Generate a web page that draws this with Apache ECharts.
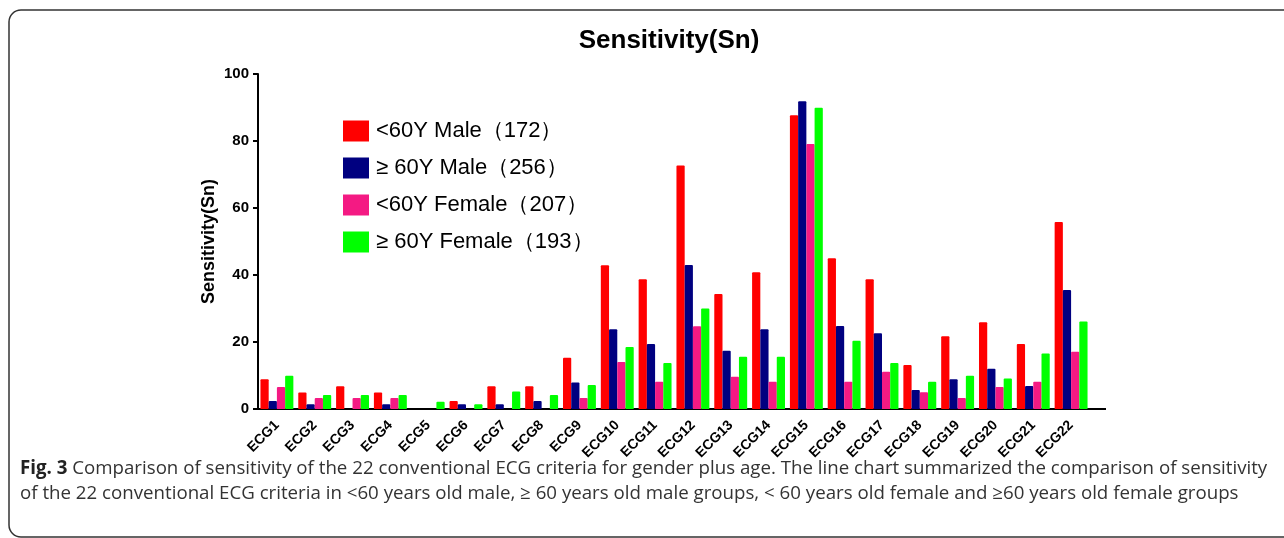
<!DOCTYPE html>
<html>
<head>
<meta charset="utf-8">
<script src="https://cdn.jsdelivr.net/npm/echarts@6/dist/echarts.min.js"></script>
<style>
  html, body { margin: 0; padding: 0; background: #fff; }
  #main { width: 1284px; height: 538px; }
</style>
</head>
<body>
<div id="main"></div>
<script>
const categories = ['ECG1','ECG2','ECG3','ECG4','ECG5','ECG6','ECG7','ECG8','ECG9','ECG10','ECG11',
  'ECG12','ECG13','ECG14','ECG15','ECG16','ECG17','ECG18','ECG19','ECG20','ECG21','ECG22']

const seriesNames = ['<60Y Male（172）', '≥ 60Y Male（256）', '<60Y Female（207）', '≥ 60Y Female（193）']

const maleUnder60 = [8.9, 4.9, 6.8, 4.9, 0, 2.4, 6.8, 6.8, 15.3, 42.9, 38.7,
  72.7, 34.3, 40.8, 87.7, 45.0, 38.7, 13.1, 21.7, 25.9, 19.4, 55.8]
const maleOver60 = [2.4, 1.4, 0, 1.4, 0, 1.4, 1.4, 2.4, 7.9, 23.8, 19.4,
  43.0, 17.4, 23.8, 91.9, 24.8, 22.6, 5.7, 8.9, 12.0, 6.9, 35.5]
const femaleUnder60 = [6.6, 3.3, 3.3, 3.3, 0, 0, 0, 0, 3.3, 14.0, 8.1,
  24.7, 9.6, 8.1, 79.1, 8.1, 11.1, 5.0, 3.3, 6.6, 8.1, 17.1]
const femaleOver60 = [9.9, 4.2, 4.2, 4.2, 2.2, 1.4, 5.2, 4.2, 7.2, 18.5, 13.7,
  30.0, 15.6, 15.6, 89.9, 20.4, 13.7, 8.1, 9.9, 9.1, 16.6, 26.1]

const yTicks = [0, 20, 40, 60, 80, 100]

const colors = ['#ff0000', '#000080', '#f41a83', '#00ff00']
const values = [maleUnder60, maleOver60, femaleUnder60, femaleOver60]

const chart = echarts.init(document.getElementById('main'))

const option = {
  animation: false,
  title: {
    text: 'Sensitivity(Sn)',
    left: 664, top: 23, textAlign: 'center',
    textStyle: { fontFamily: 'Liberation Sans', fontWeight: 'bold', fontSize: 26, color: '#000' }
  },
  legend: {
    orient: 'vertical',
    left: 338, top: 115,
    itemWidth: 26, itemHeight: 21, itemGap: 15,
    icon: 'rect',
    textStyle: { fontFamily: 'Liberation Sans', fontSize: 22, lineHeight: 21, color: '#000', padding: [0, 0, 0, 2] },
    data: seriesNames
  },
  grid: { left: 258, right: 194, top: 74, bottom: 129, containLabel: false },
  xAxis: {
    type: 'category',
    data: categories,
    axisLine: { lineStyle: { color: '#000', width: 2 } },
    axisTick: { alignWithLabel: true, length: 5, lineStyle: { color: '#000', width: 2 } },
    axisLabel: {
      rotate: 45, margin: 14, interval: 0,
      fontFamily: 'Liberation Sans', fontWeight: 'bold', fontSize: 14, color: '#000'
    }
  },
  yAxis: {
    type: 'value',
    min: 0, max: 100, interval: 20,
    name: 'Sensitivity(Sn)',
    nameLocation: 'middle', nameGap: 40, nameRotate: 90, nameMoveOverlap: false,
    nameTextStyle: { fontFamily: 'Liberation Sans', fontWeight: 'bold', fontSize: 18, color: '#000' },
    axisLine: { show: true, lineStyle: { color: '#000', width: 2 } },
    axisTick: { show: true, length: 5, lineStyle: { color: '#000', width: 2 } },
    axisLabel: {
      margin: 9,
      fontFamily: 'Liberation Sans', fontWeight: 'bold', fontSize: 15, color: '#000',
      formatter: v => yTicks.includes(v) ? String(v) : ''
    },
    splitLine: { show: false }
  },
  series: seriesNames.map((name, i) => ({
    name,
    type: 'bar',
    data: values[i],
    barGap: '0%',
    barCategoryGap: '13%',
    itemStyle: { color: colors[i], borderRadius: [1, 1, 0, 0] }
  })),
  graphic: [
    {
      type: 'rect',
      shape: { x: 9, y: 10, width: 1300, height: 527, r: 12 },
      style: { fill: 'none', stroke: '#333', lineWidth: 1.5 },
      silent: true
    },
    {
      // x axis line runs a bit past the last category in the original
      type: 'line',
      shape: { x1: 1089, y1: 409, x2: 1106, y2: 409 },
      style: { stroke: '#000', lineWidth: 2 },
      silent: true
    },
    {
      type: 'text',
      left: 20, top: 456,
      style: {
        text: '{b|Fig. 3} Comparison of sensitivity of the 22 conventional ECG criteria for gender plus age. The line chart summarized the comparison of sensitivity\nof the 22 conventional ECG criteria in <60 years old male, ≥ 60 years old male groups, < 60 years old female and ≥60 years old female groups',
        fontFamily: 'Open Sans', fontSize: 18.7, lineHeight: 25, fill: '#333',
        rich: { b: { fontFamily: 'Open Sans', fontWeight: 'bold', fontSize: 18.7, lineHeight: 25, fill: '#222' } }
      }
    }
  ]
}

chart.setOption(option)
</script>
</body>
</html>
